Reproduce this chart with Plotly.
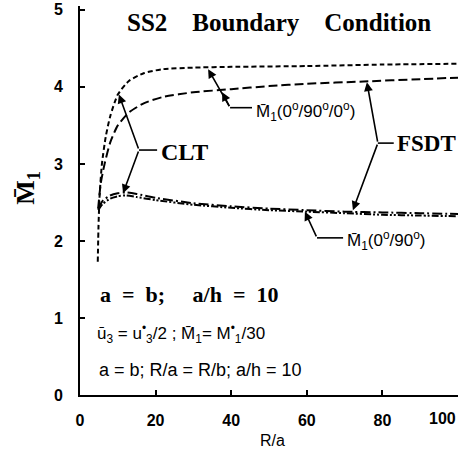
import plotly.graph_objects as go

# ---- data ----
x_clt3 = [4.7, 4.9, 5.2, 5.8, 6.8, 8, 10, 13, 17, 22, 30, 40, 60, 80, 100]
y_clt3 = [1.73, 2.2, 2.6, 3.0, 3.35, 3.62, 3.9, 4.08, 4.18, 4.23, 4.25, 4.26, 4.27, 4.29, 4.30]

x_fsdt3 = [4.8, 5.5, 6.5, 8, 10, 13, 17, 22, 30, 40, 50, 60, 75, 90, 100]
y_fsdt3 = [2.42, 2.75, 3.0, 3.28, 3.5, 3.67, 3.79, 3.87, 3.93, 3.97, 4.01, 4.04, 4.07, 4.10, 4.12]

x_lo = [4.8, 6, 8, 10, 12, 15, 20, 30, 40, 50, 60, 70, 80, 90, 100]
y_clt2 = [2.42, 2.52, 2.59, 2.62, 2.63, 2.61, 2.56, 2.49, 2.45, 2.42, 2.40, 2.38, 2.37, 2.36, 2.35]
y_fsdt2 = [2.40, 2.48, 2.55, 2.58, 2.59, 2.57, 2.53, 2.47, 2.43, 2.40, 2.38, 2.36, 2.34, 2.33, 2.32]

x_ticks = [0, 20, 40, 60, 80]
y_ticks = [0, 1, 2, 3, 4, 5]

SERIF = "Liberation Serif, Times New Roman, serif"
SANS = "Liberation Sans, Arial, sans-serif"
NB = "\u00a0"

fig = go.Figure()
def add(x, y, dash):
    fig.add_trace(go.Scatter(x=x, y=y, mode="lines", showlegend=False,
                             line=dict(color="black", width=2, dash=dash,
                                       shape="spline", smoothing=0.6)))
add(x_clt3, y_clt3, "5px,3px")
add(x_fsdt3, y_fsdt3, "9px,4px")
add(x_lo, y_clt2, "10px,3px,2px,3px")
add(x_lo, y_fsdt2, "7px,2px,2px,2px,2px,2px")

ann = []
def arrow(tx, ty, fx, fy):
    ann.append(dict(x=tx, y=ty, ax=fx, ay=fy, xref="x", yref="y", axref="x", ayref="y",
                    text="", showarrow=True, arrowhead=2, arrowsize=1.1, arrowwidth=1.6,
                    arrowcolor="black"))
def seg(x0, y0, x1, y1):
    fig.add_shape(type="line", x0=x0, y0=y0, x1=x1, y1=y1, xref="x", yref="y",
                  line=dict(color="black", width=1.6))
def txt(x, y, s, fam, size, bold=False, xanchor="left", **kw):
    d = dict(x=x, y=y, text=s, showarrow=False, xanchor=xanchor, yanchor="middle",
             font=dict(family=fam, size=size, color="black", weight="bold" if bold else "normal"))
    d.update(kw)
    if "xref" not in d:
        d["xref"] = "x"
    if "yref" not in d:
        d["yref"] = "y"
    ann.append(d)

# CLT leader
arrow(10.3, 3.90, 15.6, 3.18)
arrow(11.4, 2.62, 15.6, 3.18)
seg(15.6, 3.18, 20.4, 3.18)
txt(20.9, 3.16, "CLT", SERIF, 24, True)

# M1 (0/90/0) leader
arrow(33.9, 4.23, 39.7, 3.73)
arrow(37.6, 3.93, 39.7, 3.73)
seg(39.7, 3.73, 45.5, 3.73)
txt(46.0, 3.68, "M\u0304<sub>1</sub>(0<sup>o</sup>/90<sup>o</sup>/0<sup>o</sup>)", SANS, 17)

# FSDT leader
arrow(75.9, 4.06, 78.8, 3.27)
arrow(72.2, 2.40, 78.8, 3.27)
seg(78.8, 3.27, 83.0, 3.27)
txt(83.3, 3.27, "FSDT", SERIF, 23, True)

# M1 (0/90) leader
arrow(59.5, 2.38, 62.7, 2.04)
seg(62.7, 2.04, 69.6, 2.04)
txt(70.1, 2.01, "M\u0304<sub>1</sub>(0<sup>o</sup>/90<sup>o</sup>)", SANS, 17)

# title
txt(52.6, 4.84, "SS2" + NB * 4 + "Boundary" + NB * 4 + "Condition", SERIF, 25, True, xanchor="center")

# text block
txt(4.8, 1.30, "a" + NB * 2 + "=" + NB * 2 + "b;" + NB * 5 + "a/h" + NB * 2 + "=" + NB * 2 + "10",
    SERIF, 22, True)
txt(4.0, 0.80, "u\u0304<sub>3</sub> = u<sup>\u2022</sup><sub>3</sub>/2 ; M\u0304<sub>1</sub>= M<sup>\u2022</sup><sub>1</sub>/30",
    SANS, 17)
txt(4.5, 0.32, "a = b; R/a = R/b; a/h = 10", SANS, 18)

# axis titles and the clipped 100 tick label
txt(-0.14, 2.69, "M\u0304<sub>1</sub>", SERIF, 26, True, xanchor="center", xref="paper", textangle=-90)
txt(1.0, 0, "100", SANS, 16, True, xanchor="right", xref="paper", yshift=-23)
txt(0.508, 0, "R/a", SANS, 16, False, xanchor="center", xref="paper", yshift=-45)

fig.update_layout(
    width=458, height=453,
    margin=dict(l=80, r=0, t=6, b=58),
    paper_bgcolor="white", plot_bgcolor="white",
    annotations=ann,
    xaxis=dict(range=[0, 100], tickvals=x_ticks, showgrid=False, zeroline=False,
               showline=True, linecolor="black", linewidth=2,
               ticks="inside", ticklen=5, tickwidth=2, tickcolor="black",
               ticklabelstandoff=10,
               tickfont=dict(family=SANS, size=16, color="black", weight="bold")),
    yaxis=dict(range=[0, 5.05], tickvals=y_ticks, showgrid=False, zeroline=False,
               showline=True, linecolor="black", linewidth=2,
               ticks="inside", ticklen=5, tickwidth=2, tickcolor="black",
               ticklabelstandoff=12,
               tickfont=dict(family=SANS, size=16, color="black", weight="bold")),
)

fig.write_html("out.html", config={"displayModeBar": False},
               post_script="document.body.style.margin='0';")
